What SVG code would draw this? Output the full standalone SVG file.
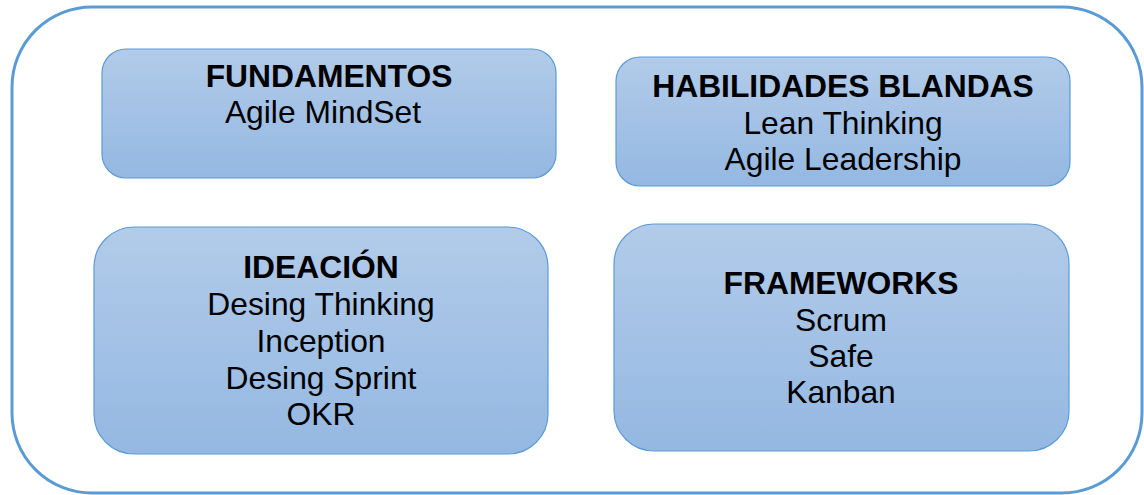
<svg xmlns="http://www.w3.org/2000/svg" width="1144" height="495" viewBox="0 0 1144 495">
  <defs>
    <linearGradient id="boxFill" x1="0" y1="0" x2="0" y2="1">
      <stop offset="0" stop-color="#b2cbe9"/>
      <stop offset="1" stop-color="#94b8e2"/>
    </linearGradient>
    <style>
      .frame { fill: #ffffff; stroke: #5b9bd5; stroke-width: 3; }
      .box { fill: url(#boxFill); stroke: #5b9bd5; stroke-width: 1.2; }
      text { font-family: "Liberation Sans", Arial, sans-serif; font-size: 31.8px; fill: #000000; text-anchor: middle; }
      .title { font-weight: bold; }
    </style>
  </defs>

  <!-- outer frame -->
  <rect class="frame" x="12" y="7" width="1130" height="486" rx="80" ry="80"/>

  <g id="fundamentos">
    <rect class="box" x="102" y="49" width="454" height="129" rx="24" ry="24"/>
    <text class="title" x="329" y="87">FUNDAMENTOS</text>
    <text x="323" y="123">Agile MindSet</text>
  </g>

  <g id="habilidades-blandas">
    <rect class="box" x="616" y="57" width="454" height="129" rx="24" ry="24"/>
    <text class="title" x="843" y="97">HABILIDADES BLANDAS</text>
    <text x="843" y="134">Lean Thinking</text>
    <text x="843" y="170">Agile Leadership</text>
  </g>

  <g id="ideacion">
    <rect class="box" x="94" y="227" width="454" height="227" rx="40" ry="40"/>
    <text class="title" x="321" y="278">IDEACIÓN</text>
    <text x="321" y="315">Desing Thinking</text>
    <text x="321" y="352">Inception</text>
    <text x="321" y="389">Desing Sprint</text>
    <text x="321" y="425">OKR</text>
  </g>

  <g id="frameworks">
    <rect class="box" x="614" y="224" width="455" height="227" rx="40" ry="40"/>
    <text class="title" x="841" y="294">FRAMEWORKS</text>
    <text x="841" y="331">Scrum</text>
    <text x="841" y="367">Safe</text>
    <text x="841" y="403">Kanban</text>
  </g>

  <g id="connectors"/>
</svg>
